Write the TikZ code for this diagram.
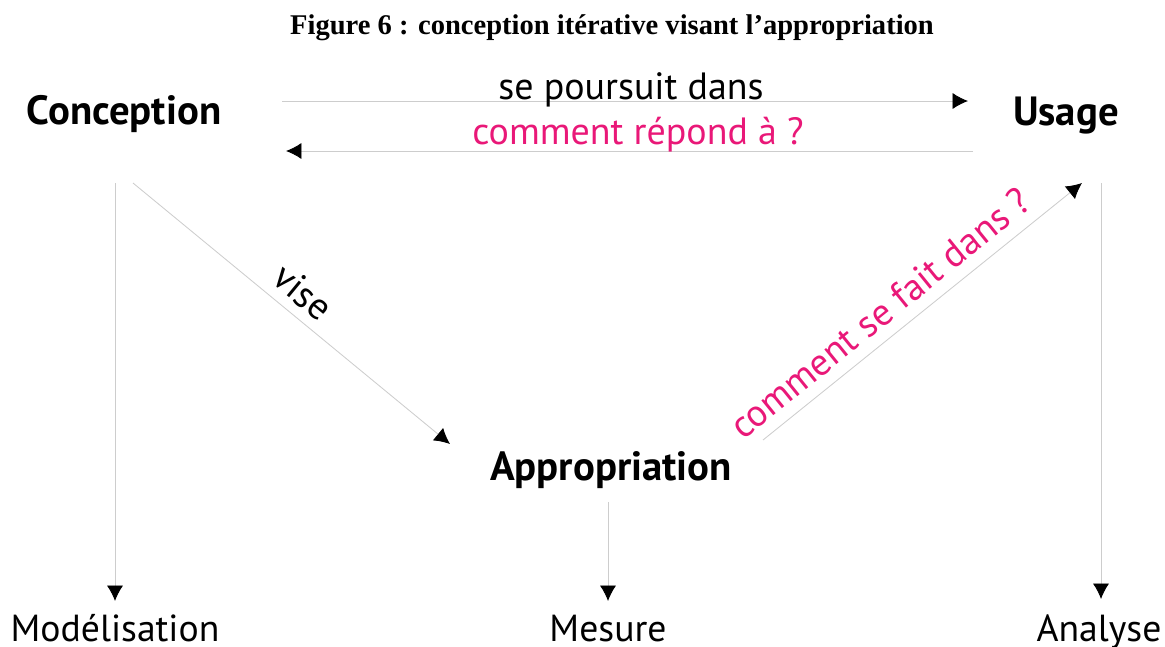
\documentclass[tikz,border=0pt]{standalone}
\usepackage{fontspec}
\setmainfont{PT Sans}
\newfontfamily\titlefont{Liberation Serif}
\usetikzlibrary{arrows.meta}
\definecolor{rose}{RGB}{233,24,120}
\definecolor{trait}{RGB}{205,205,205}
\tikzset{
  pole/.style={font=\fontsize{29}{32}\selectfont\bfseries, inner sep=0pt},
  issue/.style={font=\fontsize{26.8}{30}\selectfont, inner sep=0pt, anchor=base},
  lien/.style={font=\fontsize{27}{30}\selectfont, inner sep=0pt},
  fleche/.style={draw=trait, line width=0.6pt, -{Latex[color=black, length=11pt, width=11.5pt]}}
}

\begin{document}
\begin{tikzpicture}[x=0.025cm, y=-0.025cm]
   \useasboundingbox (0,0) rectangle (1165,646);

   \node (titre) at (612,28) {\titlefont\fontsize{20.3}{24}\selectfont\bfseries Figure 6 : conception itérative visant l’appropriation};

   \node[pole] (conc) at (124,114) {Conception};
   \node[pole] (usage) at (1066,116) {Usage};
   \node[pole] (appr) at (611,470) {Appropriation};

   \node[issue] (model) at (115,641) {Modélisation};
   \node[issue] (mesure) at (608,641) {Mesure};
   \node[issue] (analyse) at (1099,641) {Analyse};

   \coordinate (c1) at (282,101);
   \coordinate (u1) at (968,101);
   \coordinate (u2) at (973,151);
   \coordinate (c2) at (286,151);
   \coordinate (c3) at (133,183);
   \coordinate (a1) at (450,444);
   \coordinate (a2) at (763,440);
   \coordinate (u3) at (1082,183);
   \coordinate (c4) at (115,183);
   \coordinate (m1) at (115,601);
   \coordinate (a3) at (608,502);
   \coordinate (m2) at (608,601);
   \coordinate (u4) at (1101,183);
   \coordinate (m3) at (1101,599);

   \draw[fleche] (c1) -- (u1);
   \draw[fleche] (u2) -- (c2);
   \draw[fleche] (c3) -- (a1);
   \draw[fleche] (a2) -- (u3);
   \draw[fleche] (c4) -- (m1);
   \draw[fleche] (a3) -- (m2);
   \draw[fleche] (u4) -- (m3);

   \node[lien] (poursuit) at (631,90) {se poursuit dans};
   \node[lien, text=rose] (repond) at (638,135) {comment répond à ?};
   \node[lien, rotate=-39.5] (vise) at (303,292) {vise};
   \node[lien, text=rose, rotate=39] (fait) at (880,313) {comment se fait dans ?};
\end{tikzpicture}
\end{document}
